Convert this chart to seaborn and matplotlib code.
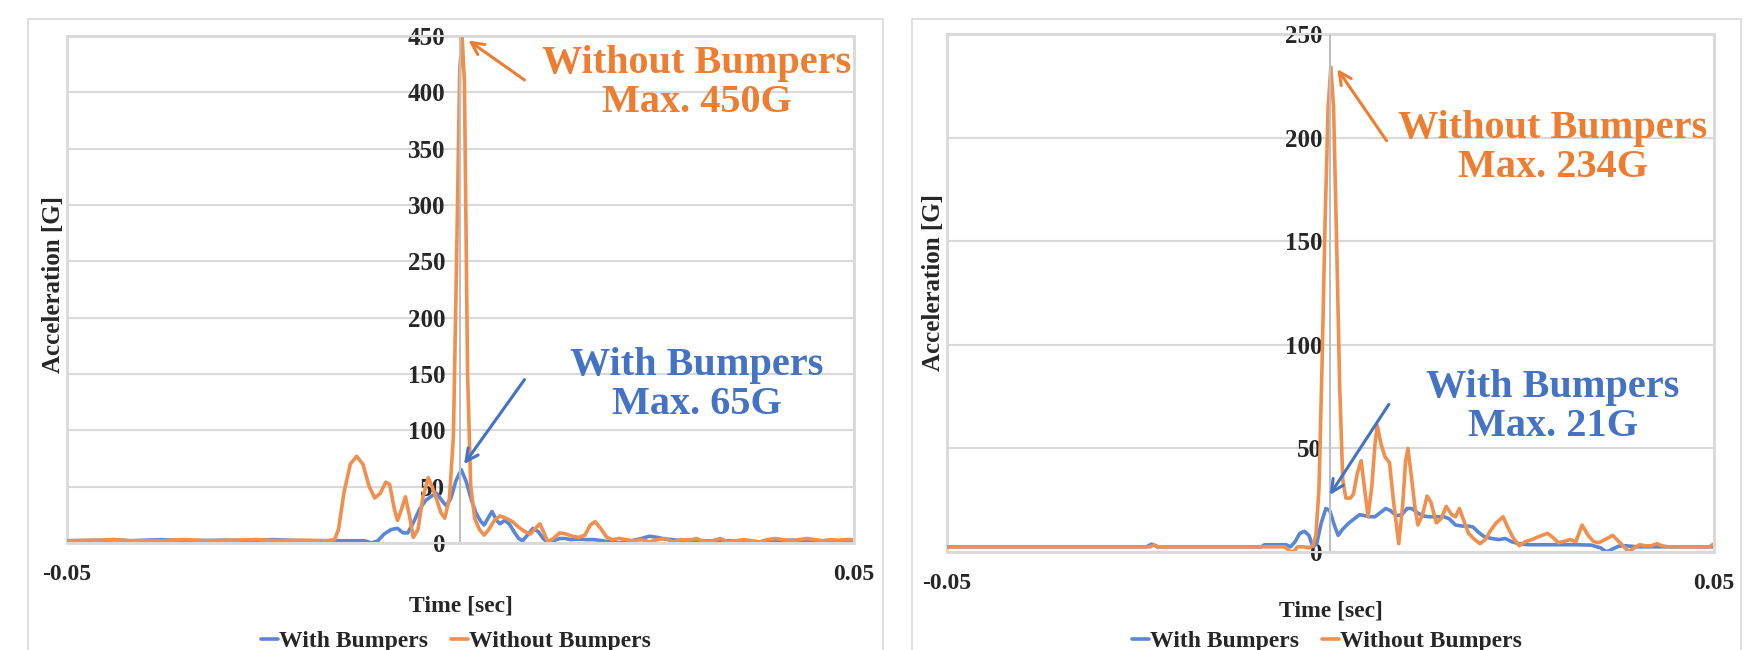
import matplotlib.pyplot as plt
import numpy as np
import seaborn as sns
from matplotlib.patches import Rectangle

# Impact acceleration traces, time in ms, acceleration in G
# Left test
left_with_t = [-50, -45, -44, -42, -38, -35, -30, -27, -24, -20, -17, -14, -12.2, -11.3, -10.5,
               -9.7, -8.8, -8.0, -7.3, -6.7, -6.0, -5.2, -4.4, -3.6, -3.0, -2.4, -1.8, -1.2, -0.6,
               0.1, 0.7, 1.4, 2.0, 2.6, 3.0, 3.5, 4.0, 4.6, 5.0, 5.6, 6.2, 6.8, 7.4, 7.9, 8.5, 9.2,
               9.9, 10.5, 11.0, 11.8, 12.6, 13.3, 14.0, 15, 16, 17, 18, 19, 20, 21, 22, 23, 24, 25,
               26, 27, 28, 29, 30, 32, 34, 36, 38, 39, 40, 42, 44, 45, 46, 48, 50]
left_with_g = [2, 2.5, 3, 2, 3, 2, 2.5, 2, 3, 2, 2, 2, 2, 0, 2,
               8, 12, 13, 9, 9, 18, 30, 38, 42, 44, 38, 33, 40, 55,
               65, 55, 38, 26, 19, 16, 22, 28, 20, 17, 20, 17, 10, 4, 2, 7, 13,
               10, 4, 1, 2, 4, 4, 3, 3.5, 3, 3, 2, 1, 0, 0.5, 2.5, 4, 6, 5,
               3.5, 3, 2, 2.5, 1.5, 2, 2, 1, 0, 1, 2, 2.5, 2, 0, 2, 2, 2]

left_without_t = [-50, -46, -44, -42, -38, -35, -32, -29, -26, -23, -20, -17, -16, -15.5, -14.8,
                  -14, -13.2, -12.4, -11.6, -10.9, -10.2, -9.5, -9.0, -8.4, -8.0, -7.5, -7.0,
                  -6.5, -6.0, -5.4, -4.8, -4.1, -3.6, -3.0, -2.5, -2.0, -1.4, -0.9, -0.5, -0.1,
                  0.2, 0.5, 0.9, 1.3, 1.8, 2.4, 3.0, 3.6, 4.3, 5.0, 5.8, 6.6, 7.4, 8.2, 8.9, 9.5,
                  10.1, 10.6, 11.1, 11.8, 12.6, 13.4, 14.2, 15.0, 15.8, 16.5, 17.1, 17.8, 18.6,
                  19.3, 20.2, 21, 22, 23, 24, 25, 26, 27, 28, 29, 30, 31, 32, 33, 34, 35, 36, 37,
                  38, 39, 40, 41, 42, 43, 44, 45, 46, 47, 48, 49, 50]
left_without_g = [2, 2.5, 3, 2, 2, 3, 2, 2.5, 3, 2, 2.5, 2, 3, 12, 45,
                  70, 77, 70, 50, 40, 44, 54, 52, 30, 20, 30, 41,
                  25, 5, 12, 40, 58, 50, 38, 27, 22, 40, 95, 250, 420,
                  450, 410, 150, 50, 22, 12, 7, 12, 20, 24, 22, 19, 14, 10, 8, 13,
                  17, 9, 1, 4, 9, 8, 6, 5, 7, 16, 19, 13, 5,
                  3, 4, 3, 2, 3, 1, 3, 4, 1, 3, 2.5, 4, 1, 2, 4, 1, 2, 3, 2,
                  1, 3, 4, 3, 2, 3, 4, 3, 2, 3, 2.5, 3, 3]

# Right test
right_with_t = [-50, -24, -23.3, -22.6, -9, -8.6, -6.5, -5.8, -5.2, -4.6, -4.0, -3.4, -2.8, -2.3,
                -1.8, -1.2, -0.6, -0.1, 0.5, 1.0, 1.6, 2.4, 3.1, 3.8, 4.5, 5.1, 5.8, 6.5, 7.2,
                7.8, 8.6, 9.3, 10.0, 10.6, 11.3, 12.0, 12.8, 13.8, 14.8, 15.5, 16.3, 17.2, 18.0,
                18.6, 19.3, 20.0, 21.0, 22.0, 22.8, 23.6, 24.5, 26, 28, 30, 32, 34, 35.2, 36.0,
                36.8, 37.6, 38.5, 40, 42, 45, 48, 50]
right_with_g = [2.5, 2.5, 3.8, 2.5, 2.5, 3.5, 3.5, 3.5, 2.5, 5, 9, 10, 8, 2.5,
                4, 14, 21, 20, 13, 8, 11, 14, 16, 18, 17.5, 17, 17, 19, 21,
                20, 17.5, 18, 21, 21, 19, 17.5, 17, 17, 17, 16, 13, 12.5, 12.5,
                12, 9.5, 7.5, 6.5, 6, 6.5, 5, 4, 3.5, 3.5, 3.5, 3.5, 3.3, 2, 0,
                1.5, 2.8, 3, 2.5, 2.5, 2.5, 2.5, 2.5]

right_without_t = [-50, -30, -23.5, -23, -22.5, -8, -6, -5.6, -5.2, -4.7, -4.3, -3.5, -2.8, -2.3,
                   -1.9, -1.5, -1.1, -0.7, -0.3, 0.05, 0.4, 0.8, 1.2, 1.6, 2.0, 2.6, 3.0, 3.5,
                   4.0, 4.4, 4.9, 5.4, 5.8, 6.1, 6.6, 7.1, 7.7, 8.2, 8.9, 9.4, 9.8, 10.1, 10.5,
                   11.0, 11.4, 12.0, 12.6, 13.1, 13.8, 14.4, 15.1, 15.8, 16.3, 16.8, 17.3, 18.0,
                   18.8, 19.5, 20.2, 20.8, 21.6, 22.5, 23.1, 23.8, 24.6, 25.4, 26.3, 27.2, 28.3,
                   29.0, 29.7, 30.4, 31.2, 32.0, 32.8, 33.6, 34.3, 35.0, 35.8, 36.8, 37.6, 38.4,
                   38.9, 39.6, 40.3, 41.0, 41.8, 42.6, 43.2, 44, 46, 48, 49.4, 50]
right_without_g = [2.5, 2.5, 2.5, 3.5, 2.5, 2.5, 2.5, 1.5, 0, 0.5, 2.5, 2.5, 2, 3,
                   8, 30, 90, 160, 215, 234, 215, 150, 80, 35, 26, 26, 28, 38,
                   44, 32, 17, 32, 52, 61, 52, 46, 43, 25, 4, 22, 44, 50, 38,
                   22, 13, 18, 27, 24, 14, 16, 22, 18, 17, 21, 16, 9,
                   6, 4, 6, 10, 14, 17, 12, 7, 3, 5, 6, 7.5, 9,
                   7, 4.5, 5, 6, 5, 13, 8, 5, 4.5, 6, 8, 5, 2,
                   0, 2, 3.5, 3, 3, 4, 3, 2.5, 2.5, 2.5, 2.5, 4]

series_names = ['With Bumpers', 'Without Bumpers']
notes_left = ['Without Bumpers\nMax. 450G', 'With Bumpers\nMax. 65G']
notes_right = ['Without Bumpers\nMax. 234G', 'With Bumpers\nMax. 21G']

BLUE_LINE, ORANGE_LINE = '#5A87D5', '#F08F4E'
BLUE_TXT, ORANGE_TXT = '#4472C4', '#ED7D31'
GRID = '#D9D9D9'

sns.set_style('white')
plt.rcParams['font.family'] = ['Liberation Serif', 'DejaVu Serif']
plt.rcParams['font.weight'] = 'bold'

fig = plt.figure(figsize=(17.52, 6.5), dpi=100)

# light outer chart frames
fig.patches.append(Rectangle((0.016, -0.05), 0.488, 1.0208, transform=fig.transFigure,
                             fill=False, edgecolor=GRID, lw=1.2))
fig.patches.append(Rectangle((0.5205, -0.05), 0.4732, 1.0208, transform=fig.transFigure,
                             fill=False, edgecolor=GRID, lw=1.2))

ax1 = fig.add_axes([0.03824, 0.1646, 0.4492, 0.78])
ax2 = fig.add_axes([0.5405, 0.1508, 0.4378, 0.797])


def draw_panel(ax, with_t, with_g, without_t, without_g, ymax, ypad, ylab_y, xlab_y, legend_x):
    sns.lineplot(x=np.array(with_t) / 1000, y=with_g, ax=ax, color=BLUE_LINE, lw=2.6,
                 label=series_names[0])
    sns.lineplot(x=np.array(without_t) / 1000, y=without_g, ax=ax, color=ORANGE_LINE, lw=2.6,
                 label=series_names[1])
    ax.set_xlim(-0.05, 0.05)
    ax.set_ylim(0, ymax)
    ax.set_yticks(range(0, ymax + 1, 50))
    ax.set_xticks([-0.05, 0.05])
    ax.set_xticklabels(['-0.05', '0.05'])
    ax.yaxis.grid(True, color=GRID, lw=1.5)
    ax.xaxis.grid(False)
    ax.spines['left'].set_position(('data', 0))
    ax.spines['left'].set_color('#BFBFBF')
    ax.spines['left'].set_linewidth(1.5)
    for s in ['top', 'right', 'bottom']:
        ax.spines[s].set_color(GRID)
        ax.spines[s].set_linewidth(1.5)
    ax.add_patch(Rectangle((0, 0), 1, 1, transform=ax.transAxes, fill=False,
                           edgecolor=GRID, lw=2, clip_on=False, zorder=0))
    ax.tick_params(axis='y', length=0, pad=ypad, labelsize=18)
    ax.tick_params(axis='x', length=0, pad=15, labelsize=17)
    ax.set_xlabel('Time [sec]', fontsize=17, fontweight='bold')
    ax.set_ylabel('Acceleration [G]', fontsize=18, fontweight='bold')
    ax.xaxis.label.set_va('center')
    ax.yaxis.label.set_va('center')
    ax.xaxis.set_label_coords(0.5, xlab_y)
    ax.yaxis.set_label_coords(-0.017, ylab_y)
    ax.legend(loc='center', bbox_to_anchor=(legend_x, 0.0138), bbox_transform=fig.transFigure,
              ncol=2, frameon=False, fontsize=17, handlelength=0.7, handletextpad=0.05,
              columnspacing=1.0)


draw_panel(ax1, left_with_t, left_with_g, left_without_t, left_without_g, 450,
           11, 0.509, -0.1247, 0.2603)
draw_panel(ax2, right_with_t, right_with_g, right_without_t, right_without_g, 250,
           6, 0.52, -0.1147, 0.7574)

arrow_kw = dict(arrowstyle='->', lw=2.2, mutation_scale=22, shrinkA=0, shrinkB=0)
note_kw = dict(fontsize=29, fontweight='bold', ha='center', va='center', linespacing=1.08)

# left annotations
ax1.annotate('', xy=(0.00102, 446), xytext=(0.00813, 411),
             arrowprops=dict(color=ORANGE_TXT, **arrow_kw))
ax1.text(0.0300, 408, notes_left[0], color=ORANGE_TXT, **note_kw)
ax1.annotate('', xy=(0.00045, 70), xytext=(0.00813, 145),
             arrowprops=dict(color=BLUE_TXT, **arrow_kw))
ax1.text(0.0300, 140, notes_left[1], color=BLUE_TXT, **note_kw)

# right annotations
ax2.annotate('', xy=(0.0009, 233), xytext=(0.00731, 198.5),
             arrowprops=dict(color=ORANGE_TXT, **arrow_kw))
ax2.text(0.029, 195, notes_right[0], color=ORANGE_TXT, **note_kw)
ax2.annotate('', xy=(-0.0001, 27.5), xytext=(0.0076, 71.2),
             arrowprops=dict(color=BLUE_TXT, **arrow_kw))
ax2.text(0.029, 70, notes_right[1], color=BLUE_TXT, **note_kw)

fig.savefig('out.png', dpi=100)
